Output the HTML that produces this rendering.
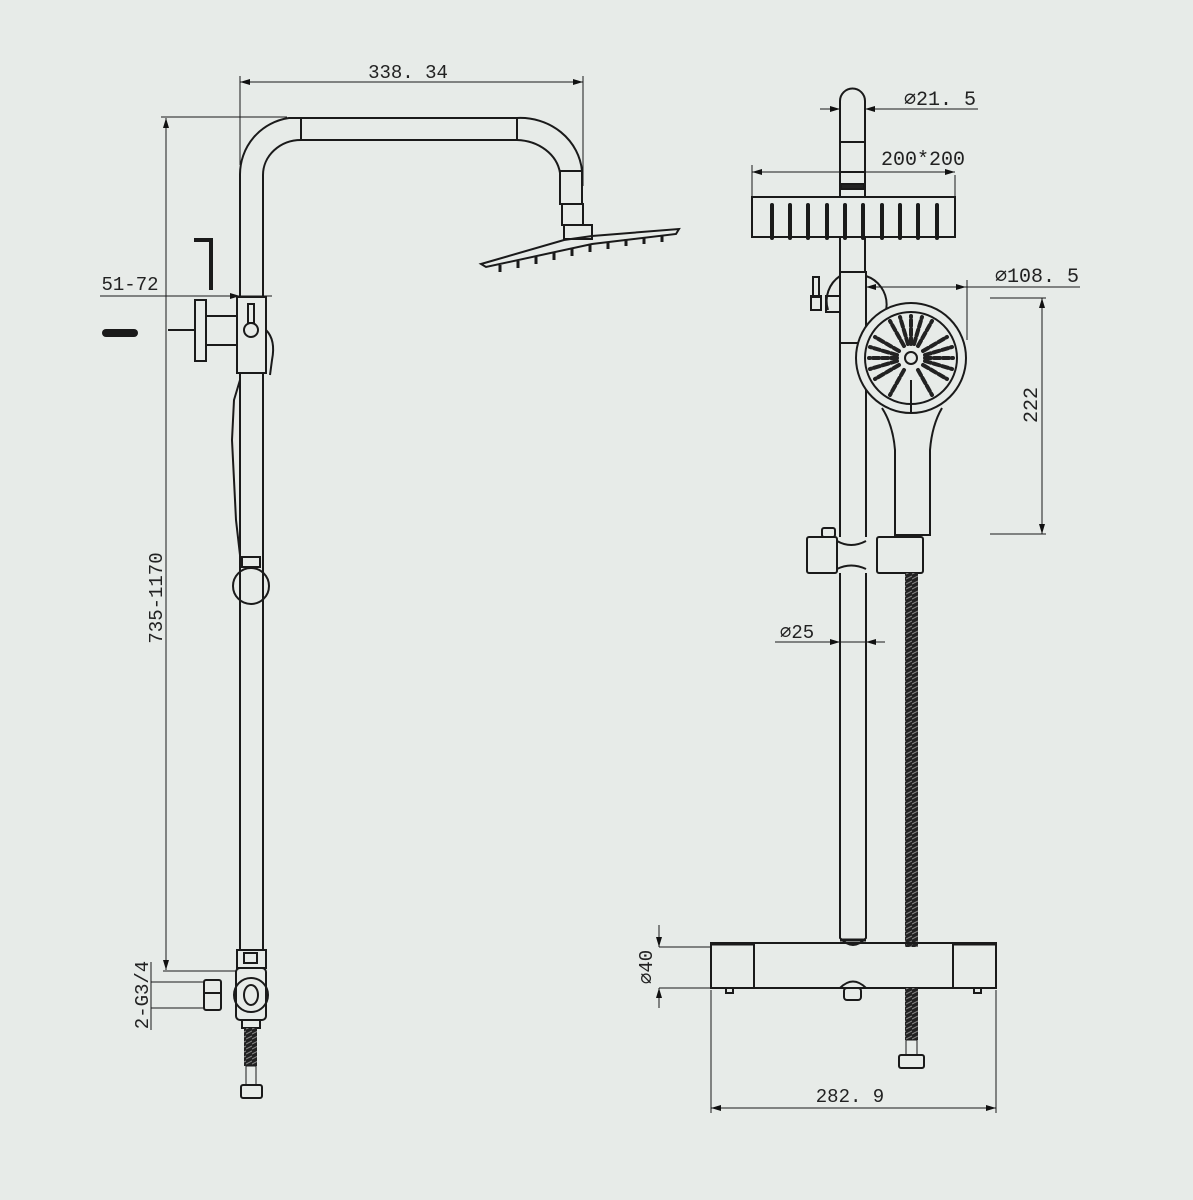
<!DOCTYPE html>
<html><head><meta charset="utf-8"><style>
html,body{margin:0;padding:0;background:#e7ebe8;}
svg{display:block;}
text{font-family:"Liberation Mono","DejaVu Sans Mono",monospace;fill:#222;}
</style></head><body>
<svg width="1193" height="1200" viewBox="0 0 1193 1200" xmlns="http://www.w3.org/2000/svg">
<defs>
<marker id="a" viewBox="0 0 10 6" refX="10" refY="3" markerWidth="10" markerHeight="6" orient="auto-start-reverse" markerUnits="userSpaceOnUse"><path d="M0,0 L10,3 L0,6 Z" fill="#111"/></marker>
<pattern id="coil" width="6" height="5" patternUnits="userSpaceOnUse"><rect width="6" height="5" fill="#222"/><path d="M0,4 L6,1" stroke="#888" stroke-width="1"/></pattern>
</defs>
<rect width="1193" height="1200" fill="#e7ebe8"/>
<g fill="none" stroke="#1a1a1a" stroke-width="2">
<!-- LEFT VIEW -->
<!-- dims -->
<g stroke-width="1">
<line x1="240" y1="76" x2="240" y2="165"/>
<line x1="583" y1="76" x2="583" y2="186"/>
<line x1="240" y1="82" x2="583" y2="82" marker-start="url(#a)" marker-end="url(#a)"/>
<line x1="161" y1="117" x2="287" y2="117"/>
<line x1="166" y1="118" x2="166" y2="970" marker-start="url(#a)" marker-end="url(#a)"/>
<line x1="100" y1="296" x2="240" y2="296" marker-end="url(#a)"/>
<line x1="193" y1="296" x2="272" y2="296"/>
<line x1="163" y1="971" x2="237" y2="971"/>
<line x1="151" y1="982" x2="205" y2="982"/>
<line x1="151" y1="1008" x2="205" y2="1008"/>
<line x1="151" y1="962" x2="151" y2="1030"/>
</g>
<!-- arm -->
<path d="M240,297 L240,175 A57,57 0 0 1 289,118 L517,118 A62,58 0 0 1 582,171 L582,204"/>
<path d="M263,297 L263,175 A38,35 0 0 1 301,140 L517,140 A45,38 0 0 1 560,173 L560,204"/>
<line x1="301" y1="118" x2="301" y2="140"/><line x1="517" y1="118" x2="517" y2="140"/>
<rect x="560" y="171" width="22" height="33"/>
<rect x="562" y="204" width="21" height="21"/>
<rect x="564" y="225" width="28" height="14"/>
<path d="M481,264 L564,240 L592,236 L679,229 L676,234 L592,244 L486,267 Z"/>
<g stroke-width="3"><line x1="500" y1="265" x2="500" y2="272"/><line x1="518" y1="261" x2="518" y2="268"/><line x1="536" y1="257" x2="536" y2="264"/><line x1="554" y1="253" x2="554" y2="260"/><line x1="572" y1="249" x2="572" y2="256"/><line x1="590" y1="245" x2="590" y2="252"/><line x1="608" y1="242" x2="608" y2="249"/><line x1="626" y1="239" x2="626" y2="246"/><line x1="644" y1="237" x2="644" y2="244"/><line x1="662" y1="235" x2="662" y2="242"/></g>
<!-- allen key -->
<path d="M194,240 L211,240 L211,290" stroke-width="4"/>
<line x1="106" y1="333" x2="134" y2="333" stroke-width="8" stroke-linecap="round"/>
<!-- valve -->
<line x1="168" y1="330" x2="195" y2="330"/>
<rect x="195" y="300" width="11" height="61"/>
<rect x="206" y="316" width="31" height="29"/>
<rect x="237" y="297" width="29" height="76"/>
<circle cx="251" cy="330" r="7"/>
<rect x="248" y="304" width="6" height="19"/>
<path d="M266,330 Q276,340 272,360 L270,375"/>
<!-- lower pipe -->
<line x1="240" y1="373" x2="240" y2="950"/><line x1="263" y1="373" x2="263" y2="950"/>
<path d="M240,380 L234,400 L232,440 L236,520 L240,555"/>
<rect x="242" y="557" width="18" height="10"/>
<circle cx="251" cy="586" r="18"/>
<!-- bottom left -->
<rect x="237" y="950" width="29" height="18"/>
<rect x="244" y="953" width="13" height="10"/>
<rect x="236" y="968" width="30" height="52" rx="4"/>
<circle cx="251" cy="995" r="17"/>
<ellipse cx="251" cy="995" rx="7" ry="10"/>
<rect x="204" y="980" width="17" height="30" rx="2"/>
<line x1="204" y1="993" x2="221" y2="993"/>
<rect x="242" y="1020" width="18" height="8"/>
<rect x="244" y="1028" width="13" height="38" fill="url(#coil)" stroke="none"/>
<rect x="246" y="1066" width="10" height="19" stroke-width="1"/>
<rect x="241" y="1085" width="21" height="13" rx="2"/>

<!-- RIGHT VIEW -->
<g stroke-width="1">
<line x1="820" y1="109" x2="840" y2="109" marker-end="url(#a)"/>
<line x1="865" y1="109" x2="978" y2="109"/>
<line x1="885" y1="109" x2="865" y2="109" marker-end="url(#a)"/>
<line x1="752" y1="165" x2="752" y2="197"/><line x1="955" y1="175" x2="955" y2="197"/>
<line x1="752" y1="172" x2="955" y2="172" marker-start="url(#a)" marker-end="url(#a)"/>
<line x1="865" y1="287" x2="1080" y2="287"/>
<line x1="885" y1="287" x2="866" y2="287" marker-end="url(#a)"/>
<line x1="940" y1="287" x2="966" y2="287" marker-end="url(#a)"/>
<line x1="967" y1="280" x2="967" y2="340"/>
<line x1="990" y1="298" x2="1046" y2="298"/><line x1="990" y1="534" x2="1046" y2="534"/>
<line x1="1042" y1="298" x2="1042" y2="534" marker-start="url(#a)" marker-end="url(#a)"/>
<line x1="775" y1="642" x2="885" y2="642"/>
<line x1="815" y1="642" x2="840" y2="642" marker-end="url(#a)"/>
<line x1="885" y1="642" x2="866" y2="642" marker-end="url(#a)"/>
<line x1="659" y1="947" x2="711" y2="947"/><line x1="659" y1="988" x2="711" y2="988"/>
<line x1="659" y1="925" x2="659" y2="947" marker-end="url(#a)"/>
<line x1="659" y1="1008" x2="659" y2="988" marker-end="url(#a)"/>
<line x1="711" y1="990" x2="711" y2="1113"/><line x1="996" y1="990" x2="996" y2="1113"/>
<line x1="711" y1="1108" x2="996" y2="1108" marker-start="url(#a)" marker-end="url(#a)"/>
</g>
<!-- top pipe -->
<path d="M840,197 L840,101 A12.5,12.5 0 0 1 865,101 L865,197"/>
<line x1="840" y1="142" x2="865" y2="142"/><line x1="840" y1="172" x2="865" y2="172"/>
<rect x="841" y="184" width="23" height="5" fill="#222"/>
<rect x="752" y="197" width="203" height="40"/>
<g stroke-width="4" stroke-linecap="round"><line x1="772" y1="205" x2="772" y2="238"/><line x1="790" y1="205" x2="790" y2="238"/><line x1="808" y1="205" x2="808" y2="238"/><line x1="827" y1="205" x2="827" y2="238"/><line x1="845" y1="205" x2="845" y2="238"/><line x1="863" y1="205" x2="863" y2="238"/><line x1="882" y1="205" x2="882" y2="238"/><line x1="900" y1="205" x2="900" y2="238"/><line x1="918" y1="205" x2="918" y2="238"/><line x1="937" y1="205" x2="937" y2="238"/></g>
<line x1="840" y1="237" x2="840" y2="272"/><line x1="865" y1="237" x2="865" y2="272"/>
<!-- holder -->
<path d="M866,276 A30,30 0 0 1 866,333"/>
<path d="M840,276 A30,30 0 0 0 828,310"/>
<rect x="840" y="272" width="26" height="71"/>
<rect x="826" y="296" width="14" height="16"/>
<rect x="813" y="277" width="6" height="20"/>
<rect x="811" y="296" width="10" height="14"/>
<line x1="840" y1="343" x2="840" y2="537"/><line x1="866" y1="343" x2="866" y2="537"/>
<!-- hand shower -->
<path d="M882,408 Q893,425 895,450 L895,535 L930,535 L930,450 Q932,425 942,408"/>
<circle cx="911" cy="358" r="55" fill="#e7ebe8"/>
<circle cx="911" cy="358" r="46"/>
<circle cx="911" cy="358" r="6"/>
<line x1="911" y1="380" x2="911" y2="412"/>
<g stroke="#222" stroke-width="4" stroke-linecap="round" stroke-dasharray="6 3">
<line x1="911" y1="344" x2="911" y2="316"/><line x1="918" y1="346" x2="932" y2="321"/><line x1="923" y1="351" x2="947" y2="337"/><line x1="925" y1="358" x2="953" y2="358"/><line x1="923" y1="365" x2="947" y2="379"/><line x1="918" y1="370" x2="932" y2="395"/><line x1="904" y1="370" x2="890" y2="395"/><line x1="899" y1="365" x2="875" y2="379"/><line x1="897" y1="358" x2="869" y2="358"/><line x1="899" y1="351" x2="875" y2="337"/><line x1="904" y1="346" x2="890" y2="321"/>
<line x1="914" y1="344" x2="922" y2="317"/><line x1="908" y1="344" x2="900" y2="317"/><line x1="925" y1="355" x2="952" y2="347"/><line x1="925" y1="361" x2="952" y2="369"/><line x1="897" y1="355" x2="870" y2="347"/><line x1="897" y1="361" x2="870" y2="369"/>
</g>
<!-- slider -->
<rect x="822" y="528" width="13" height="9" rx="2"/>
<rect x="807" y="537" width="30" height="36" rx="2"/>
<rect x="877" y="537" width="46" height="36" rx="2"/>
<path d="M837,541 Q851,549 866,541"/><path d="M837,569 Q851,562 866,569"/>
<rect x="905" y="573" width="13" height="374" fill="url(#coil)" stroke="none"/>
<line x1="840" y1="573" x2="840" y2="925"/><line x1="866" y1="573" x2="866" y2="925"/>
<path d="M840,925 L840,938 Q853,952 866,938 L866,925"/>
<line x1="840" y1="940" x2="866" y2="940" stroke-width="3"/>
<!-- bar -->
<rect x="711" y="943" width="285" height="45"/>
<line x1="754" y1="943" x2="754" y2="988"/><line x1="953" y1="943" x2="953" y2="988"/>
<line x1="711" y1="944" x2="754" y2="944" stroke-width="3"/><line x1="953" y1="944" x2="996" y2="944" stroke-width="3"/>
<rect x="726" y="988" width="7" height="5"/><rect x="974" y="988" width="7" height="5"/>
<path d="M840,988 Q853,975 866,988 Z"/>
<rect x="844" y="988" width="17" height="12" rx="3"/>
<rect x="905" y="988" width="13" height="52" fill="url(#coil)" stroke="none"/>
<rect x="906" y="1040" width="11" height="15" stroke-width="1"/>
<rect x="899" y="1055" width="25" height="13" rx="2"/>
</g>
<!-- texts -->
<text x="408" y="78" font-size="19" text-anchor="middle">338. 34</text>
<text x="130" y="290" font-size="19" text-anchor="middle">51-72</text>
<text transform="translate(162,598) rotate(-90)" font-size="19" text-anchor="middle">735-1170</text>
<text transform="translate(148,995) rotate(-90)" font-size="19" text-anchor="middle">2-G3/4</text>
<text x="940" y="105" font-size="20" text-anchor="middle">∅21. 5</text>
<text x="923" y="165" font-size="20" text-anchor="middle">200*200</text>
<text x="1037" y="282" font-size="20" text-anchor="middle">∅108. 5</text>
<text transform="translate(1037,405) rotate(-90)" font-size="20" text-anchor="middle">222</text>
<text x="797" y="638" font-size="19" text-anchor="middle">∅25</text>
<text transform="translate(652,967) rotate(-90)" font-size="19" text-anchor="middle">∅40</text>
<text x="850" y="1102" font-size="19" text-anchor="middle">282. 9</text>
</svg>
</body></html>
